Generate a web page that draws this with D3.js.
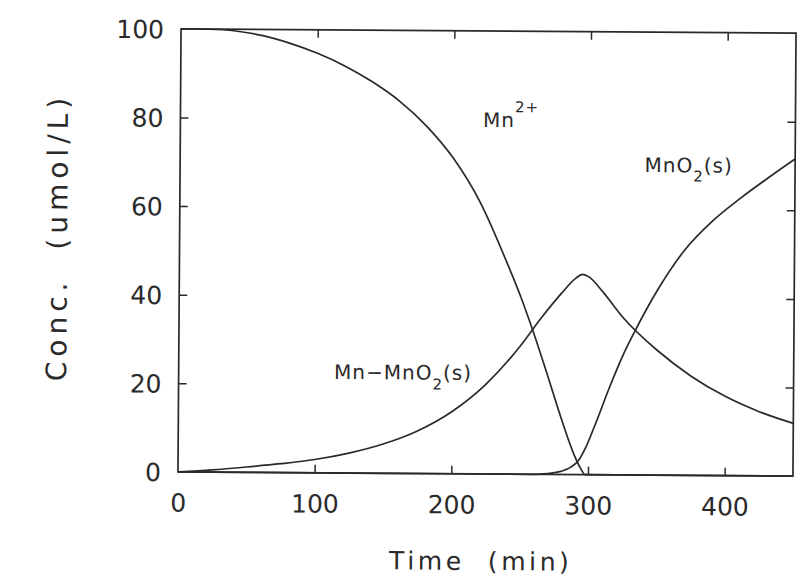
<!DOCTYPE html>
<html><head><meta charset="utf-8">
<script src="https://cdn.jsdelivr.net/npm/d3@7"></script>
<style>body{margin:0;background:#fff}svg{display:block}text{font-family:"DejaVu Sans",sans-serif;fill:#2a2a2a}</style>
</head><body><svg id="c" width="806" height="583"></svg>
<script>
const xTicks = [0, 100, 200, 300, 400];
const yTicks = [0, 20, 40, 60, 80, 100];
const mn2Time = [0, 20, 40, 60, 80, 100, 120, 140, 160, 180, 200, 220, 240, 250, 260, 270, 280, 290, 295, 298, 320, 450];
const mn2Vals = [100, 99.95, 99.6, 98.6, 96.9, 94.7, 91.9, 88.4, 84.1, 78.5, 71.2, 61.2, 47.5, 40, 31.5, 22.3, 12.8, 4.3, 1.2, 0, 0, 0];
const adsTime = [0, 25, 50, 75, 100, 125, 150, 175, 200, 225, 250, 265, 280, 290, 295, 300, 310, 325, 350, 375, 400, 425, 450];
const adsVals = [0, 0.5, 1.2, 2.0, 3.0, 4.5, 6.6, 9.6, 14.0, 20.3, 29, 35.3, 41, 44.3, 45.2, 44.6, 41.3, 35.5, 28.2, 22.4, 17.9, 14.5, 11.9];
const oxTime = [0, 100, 200, 260, 270, 280, 288, 293, 298, 305, 315, 325, 333, 350, 370, 390, 410, 430, 450];
const oxVals = [0, 0, 0, 0, 0.2, 0.7, 1.8, 3.2, 6, 11.3, 19.5, 27, 32.1, 41.8, 51, 57.5, 62.6, 67.2, 71.6];

const svg = d3.select("#c");
const root = svg.append("g").attr("transform", "rotate(0.4,487,252.5)");
const L = 179.5, R = 794.5, T = 31, B = 474;
const x = d3.scaleLinear().domain([0, 450]).range([L, R]);
const y = d3.scaleLinear().domain([0, 100]).range([B, T]);
const ink = "#2a2a2a";

function styleAxis(g){ g.select(".domain").remove(); g.selectAll("line").attr("stroke", ink).attr("stroke-width", 1.5); }
function styleText(g){ g.selectAll("text").attr("font-size", 25).attr("font-family", "DejaVu Sans").attr("fill", ink); }

root.append("g").attr("transform", `translate(0,${B})`)
  .call(d3.axisBottom(x).tickValues(xTicks).tickSize(-8).tickPadding(22).tickFormat(d3.format("d")))
  .call(styleAxis).call(styleText)
  .call(g => g.selectAll(".tick").filter(d => d === 0).select("line").remove());
root.append("g").attr("transform", `translate(0,${T})`)
  .call(d3.axisTop(x).tickValues(xTicks.filter(d => d > 0)).tickSize(-8).tickFormat(""))
  .call(styleAxis);
root.append("g").attr("transform", `translate(${L},0)`)
  .call(d3.axisLeft(y).tickValues(yTicks).tickSize(-8).tickPadding(17).tickFormat(d3.format("d")))
  .call(styleAxis).call(styleText).call(g => g.selectAll("text").attr("dy", "0.36em"))
  .call(g => g.selectAll(".tick").filter(d => d === 0 || d === 100).select("line").remove());
root.append("g").attr("transform", `translate(${R},0)`)
  .call(d3.axisRight(y).tickValues(yTicks.filter(d => d > 0 && d < 100)).tickSize(-8).tickFormat(""))
  .call(styleAxis);

root.append("rect").attr("x", L).attr("y", T).attr("width", R - L).attr("height", B - T)
  .attr("fill", "none").attr("stroke", ink).attr("stroke-width", 1.7);

const line = d3.line().x(d => x(d[0])).y(d => y(d[1])).curve(d3.curveMonotoneX);
[[mn2Time, mn2Vals], [adsTime, adsVals], [oxTime, oxVals]].forEach(([t, v]) => {
  root.append("path").datum(t.map((d, i) => [d, v[i]])).attr("d", line)
    .attr("fill", "none").attr("stroke", ink).attr("stroke-width", 1.7);
});

// axis titles
root.append("text").attr("x", 483).attr("y", 570).attr("text-anchor", "middle")
  .attr("font-size", 25).attr("letter-spacing", 3.6).attr("xml:space", "preserve").text("Time  (min)");
root.append("text").attr("transform", "translate(67,240) rotate(-90)").attr("text-anchor", "middle")
  .attr("font-size", 28).attr("letter-spacing", 5).attr("xml:space", "preserve").text("Conc.  (umol/L)");

// curve labels
const lab = root.append("g").attr("font-size", 20).attr("letter-spacing", 1);
const t1 = lab.append("text").attr("x", 482).attr("y", 127);
t1.append("tspan").text("Mn");
t1.append("tspan").attr("dy", -15).attr("font-size", 15).text("2+");

const t2 = lab.append("text").attr("x", 644).attr("y", 171);
t2.append("tspan").text("MnO");
t2.append("tspan").attr("dy", 9).attr("font-size", 15).text("2");
t2.append("tspan").attr("dy", -9).text("(s)");

const t3 = lab.append("text").attr("x", 335).attr("y", 380);
t3.append("tspan").text("Mn\u2212MnO");
t3.append("tspan").attr("dy", 10).attr("font-size", 15).text("2");
t3.append("tspan").attr("dy", -10).text("(s)");
</script></body></html>
